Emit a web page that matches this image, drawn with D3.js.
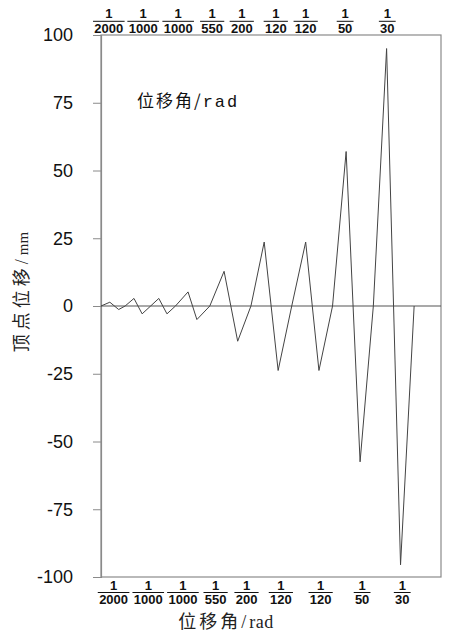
<!DOCTYPE html>
<html>
<head>
<meta charset="utf-8">
<script src="https://cdn.jsdelivr.net/npm/d3@7"></script>
<style>
    body { margin: 0; background: #fff; }
    svg { display: block; }
</style>
</head>
<body>
<div id="chart"></div>
<script>
// load step (arbitrary units, 0..100 across the frame) and top displacement in mm
const steps = [0, 2.6, 5.2, 7.1, 9.7, 12.1, 14.6, 17.0, 19.4, 21.9, 25.6, 28.2, 32.0, 36.2, 40.2, 44.1,
    48.0, 52.1, 56.1, 60.2, 64.1, 68.1, 72.1, 76.2, 80.1, 84.0, 88.1, 92.1]
const displacement = [0, 1.4, -1.3, 0, 2.8, -2.9, 0, 2.8, -2.9, 0, 5.2, -5.0, 0, 12.8, -13.0, 0,
    23.6, -23.8, 0, 23.6, -23.8, 0, 57, -57.5, 0, 95, -95.5, 0]

// drift angle labels (1/denominator) and where they sit along the step axis
const driftDenominators = ["2000", "1000", "1000", "550", "200", "120", "120", "50", "30"]
const topLabelSteps = [2.3, 12.4, 22.7, 32.7, 41.4, 51.4, 60.2, 71.8, 84.2]
const bottomLabelSteps = [3.7, 13.9, 24.1, 33.7, 42.8, 52.9, 64.6, 76.8, 88.6]

const yTicks = [100, 75, 50, 25, 0, -25, -50, -75, -100]

const width = 449, height = 633
const margin = { top: 35, right: 8, bottom: 56, left: 101 }
const plotW = width - margin.left - margin.right
const plotH = height - margin.top - margin.bottom

const svg = d3.select("#chart").append("svg")
    .attr("width", width)
    .attr("height", height)

const g = svg.append("g")
    .attr("transform", `translate(${margin.left},${margin.top})`)

const x = d3.scaleLinear().domain([0, 100]).range([0, plotW])
const y = d3.scaleLinear().domain([-100, 100]).range([plotH, 0])

// frame
g.append("rect")
    .attr("x", 0).attr("y", 0)
    .attr("width", plotW).attr("height", plotH)
    .attr("fill", "none")
    .attr("stroke", "#8a8a8a")
    .attr("stroke-width", 1.2)

// left axis
const yAxis = g.append("g")
    .call(d3.axisLeft(y).tickValues(yTicks).tickSize(8).tickPadding(20).tickFormat(d => String(d)))
yAxis.select(".domain").attr("stroke", "#8a8a8a").attr("stroke-width", 1.2)
yAxis.selectAll(".tick line").attr("stroke", "#8a8a8a")
yAxis.selectAll(".tick text")
    .attr("fill", "#111")
    .style("font-family", "'Liberation Sans', Arial, sans-serif")
    .style("font-size", "18px")

// zero line
g.append("line")
    .attr("x1", 0).attr("x2", plotW)
    .attr("y1", y(0)).attr("y2", y(0))
    .attr("stroke", "#555")
    .attr("stroke-width", 1.2)

// data line
const line = d3.line()
    .x((d, i) => x(steps[i]))
    .y(d => y(d))

g.append("path")
    .datum(displacement)
    .attr("d", line)
    .attr("fill", "none")
    .attr("stroke", "#444")
    .attr("stroke-width", 1)

// fraction labels
const drawFractions = function (positions, numY) {
    const fr = svg.append("g")
        .selectAll("g")
        .data(driftDenominators)
        .join("g")
        .attr("transform", (d, i) => `translate(${margin.left + x(positions[i])},${numY})`)
        .style("font-family", "'Liberation Sans', Arial, sans-serif")
        .style("font-size", "13px")
        .style("font-weight", "bold")
        .attr("fill", "#111")

    fr.append("text")
        .attr("text-anchor", "middle")
        .text("1")
    fr.append("text")
        .attr("text-anchor", "middle")
        .attr("y", 14.8)
        .text(d => d)
    fr.append("line")
        .attr("x1", d => -d.length * 3.7 - 1)
        .attr("x2", d => d.length * 3.7 + 1)
        .attr("y1", 3).attr("y2", 3)
        .attr("stroke", "#111")
        .attr("stroke-width", 1)
}
drawFractions(topLabelSteps, 18.3)
drawFractions(bottomLabelSteps, 589.5)

// axis titles
const cjk = "'Liberation Serif', 'Noto Sans CJK SC', serif"

const xTitle = svg.append("text")
    .attr("x", 226)
    .attr("y", 628)
    .attr("text-anchor", "middle")
    .style("font-family", cjk)
    .style("font-size", "18px")
    .attr("fill", "#222")
xTitle.append("tspan").style("letter-spacing", "3px").text("位移角/")
xTitle.append("tspan").style("letter-spacing", "0.5px").text("rad")

const yTitle = svg.append("text")
    .attr("transform", "translate(28,292) rotate(-90)")
    .attr("text-anchor", "middle")
    .style("font-family", cjk)
    .style("font-size", "18px")
    .attr("fill", "#222")
yTitle.append("tspan").style("letter-spacing", "4px").text("顶点位移/")
yTitle.append("tspan").style("font-size", "15px").text("mm")

// label inside the plot
const inner = svg.append("text")
    .attr("x", 137)
    .attr("y", 107)
    .style("font-size", "17px")
    .style("letter-spacing", "2px")
    .attr("fill", "#111")
inner.append("tspan").style("font-family", "'Noto Sans CJK SC', sans-serif").text("位移角/")
inner.append("tspan").style("font-family", "'Liberation Mono', monospace").text("rad")
</script>
</body>
</html>
